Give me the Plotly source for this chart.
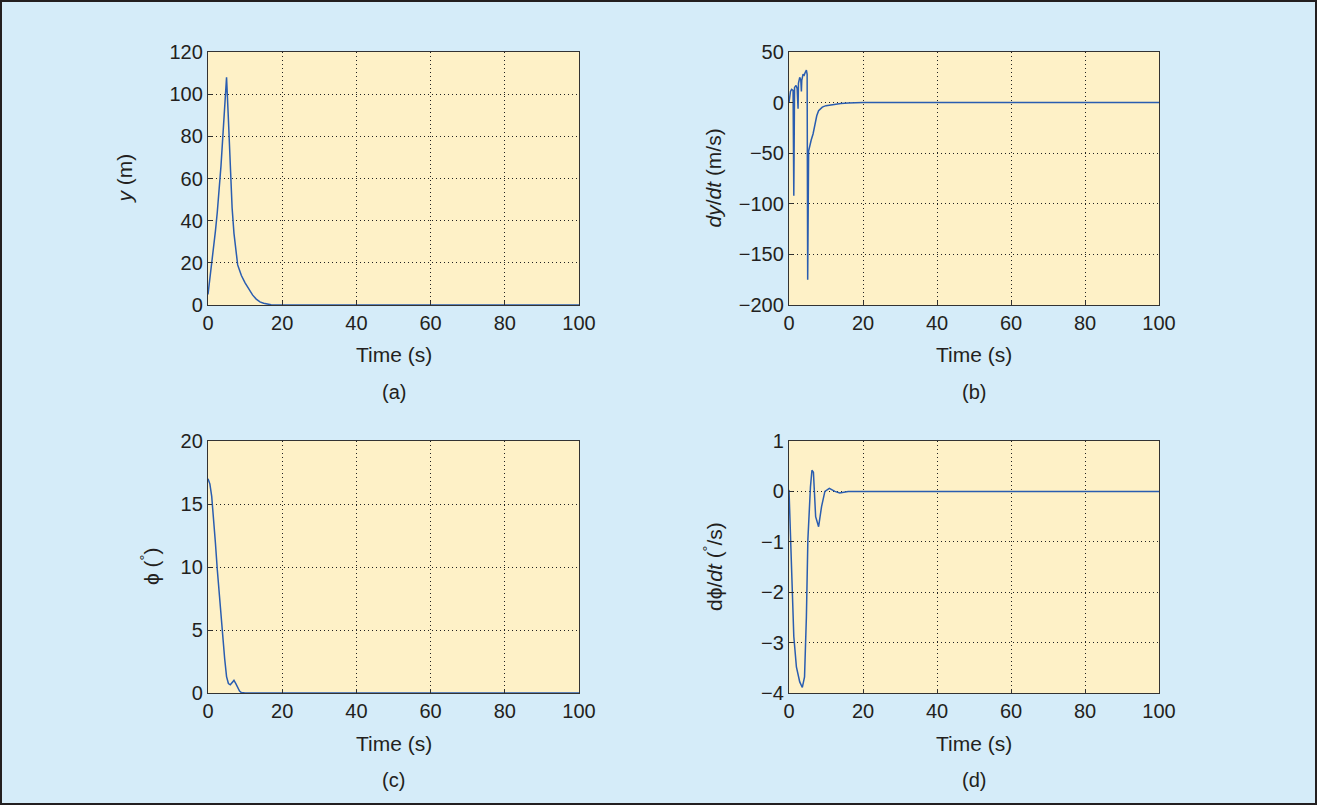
import plotly.graph_objects as go

# ---- data ----
t_y = [0, 0.5, 1, 1.5, 2, 2.5, 3, 3.5, 4, 4.5, 5, 5.5, 6, 6.5, 7, 7.5, 8, 8.5, 9, 10, 11, 12, 13, 14, 15, 16, 17, 18, 20, 30, 50, 100]
y_val = [5, 12, 19, 27, 35, 44, 54, 66, 80, 96, 108, 88, 64, 46, 34, 25, 19, 16.5, 14, 10.5, 7.5, 4.8, 2.8, 1.5, 0.8, 0.35, 0.1, 0.02, 0, 0, 0, 0]

t_dy = [0, 0.4, 0.7, 1.1, 1.3, 1.4, 1.5, 1.9, 2.2, 2.45, 2.55, 2.9, 3.2, 3.35, 3.45, 3.8, 4.1, 4.4, 4.7, 4.9, 5.05, 5.3, 5.6, 6.0, 6.5, 7.0, 7.5, 8.0, 9.0, 10, 12, 14, 16, 20, 100]
dy_val = [0, 11, 13, 12, -92, 10, 15, 17, 14, -6, 19, 25, 22, 11, 22, 28, 27, 30, 32, 28, -175, -48, -42, -37, -31, -22, -13, -8, -4.5, -3, -1.8, -0.8, -0.3, 0, 0]

t_phi = [0, 0.5, 1, 1.5, 2, 2.5, 3, 3.5, 4, 4.5, 5, 5.5, 6, 6.5, 7, 7.5, 8, 8.5, 9, 10, 12, 20, 100]
phi_val = [17.0, 16.6, 15.6, 13.9, 11.9, 9.8, 7.9, 6.2, 4.5, 2.7, 1.3, 0.75, 0.65, 0.85, 1.0, 0.75, 0.4, 0.15, 0.03, 0, 0, 0, 0]

t_dphi = [0, 0.4, 0.9, 1.3, 2.0, 2.9, 3.6, 4.2, 4.7, 5.1, 5.8, 6.2, 6.6, 7.2, 8.0, 8.8, 9.7, 10.9, 12.4, 13.7, 16, 20, 100]
dphi_val = [0.03, -0.77, -1.96, -2.88, -3.48, -3.78, -3.89, -3.68, -2.49, -0.96, 0.09, 0.42, 0.38, -0.5, -0.7, -0.3, 0.0, 0.06, 0.0, -0.03, 0, 0, 0]

x_ticks = [0, 20, 40, 60, 80, 100]
y_ticks_a = [0, 20, 40, 60, 80, 100, 120]
y_ticks_b = [-200, -150, -100, -50, 0, 50]
y_ticks_c = [0, 5, 10, 15, 20]
y_ticks_d = [-4, -3, -2, -1, 0, 1]

W, H = 1317, 805
BG = "#d5ecf9"
PLOT_BG = "#fef1c7"
LINE = "#2a5db0"
FONT = "Liberation Sans, Arial, sans-serif"
TXT = "#231f20"

def px_x(a, b):
    return [a / W, b / W]

def px_y(top, bot):
    return [1 - bot / H, 1 - top / H]

# (t, v, xdomain, ydomain, yrange, yticks, ytitle, ytitle_x_px, letter)
panels = [
    (t_y, y_val, px_x(208, 579), px_y(52, 305), [0, 120], y_ticks_a, "<i>y</i> (m)", 124, "(a)"),
    (t_dy, dy_val, px_x(789, 1159), px_y(52, 305), [-200, 50], y_ticks_b, "<i>dy</i>/<i>dt</i> (m/s)", 713, "(b)"),
    (t_phi, phi_val, px_x(208, 579), px_y(441, 693), [0, 20], y_ticks_c, "ϕ (<sup>°</sup>)", 150, "(c)"),
    (t_dphi, dphi_val, px_x(789, 1159), px_y(441, 693), [-4, 1], y_ticks_d, "dϕ/<i>dt</i> (<sup>°</sup>/s)", 713, "(d)"),
]

fig = go.Figure()
layout = dict(
    width=W, height=H,
    margin=dict(l=0, r=0, t=0, b=0, autoexpand=False),
    paper_bgcolor=BG, plot_bgcolor=PLOT_BG,
    showlegend=False,
    font=dict(family=FONT, size=20, color=TXT),
)
annotations = []
for i, (t, v, xd, yd, yr, yt, ytitle, ytx, letter) in enumerate(panels):
    n = "" if i == 0 else str(i + 1)
    fig.add_trace(go.Scatter(x=t, y=v, mode="lines", line=dict(color=LINE, width=1.5),
                             xaxis="x" + n, yaxis="y" + n, hoverinfo="skip"))
    common = dict(showline=True, linecolor="#333333", linewidth=1.3, mirror=True,
                  showgrid=True, gridcolor="#222222", griddash="1px,3px", gridwidth=1,
                  zeroline=False, ticks="inside", ticklen=4, tickcolor="#333333",
                  tickfont=dict(family=FONT, size=20, color=TXT))
    layout["xaxis" + n] = dict(domain=xd, range=[0, 100], tickvals=x_ticks,
                               anchor="y" + n, **common)
    layout["yaxis" + n] = dict(domain=yd, range=yr, tickvals=yt, anchor="x" + n,
                               **common)
    xc = (xd[0] + xd[1]) / 2
    bottom_px = (1 - yd[0]) * H
    top_px = (1 - yd[1]) * H
    # x-axis title
    annotations.append(dict(text="Time (s)", x=xc, y=1 - (bottom_px + 50) / H,
                            xref="paper", yref="paper", showarrow=False,
                            font=dict(family=FONT, size=21, color=TXT),
                            xanchor="center", yanchor="middle"))
    # panel letter
    annotations.append(dict(text=letter, x=xc, y=1 - (bottom_px + 87) / H,
                            xref="paper", yref="paper", showarrow=False,
                            font=dict(family=FONT, size=20, color=TXT),
                            xanchor="center", yanchor="middle"))
    # y-axis title
    annotations.append(dict(text=ytitle, x=ytx / W, y=1 - ((top_px + bottom_px) / 2) / H,
                            xref="paper", yref="paper", showarrow=False, textangle=-90,
                            font=dict(family=FONT, size=21, color=TXT),
                            xanchor="center", yanchor="middle"))

layout["annotations"] = annotations
layout["shapes"] = [dict(type="rect", xref="paper", yref="paper",
                         x0=1 / W, x1=1 - 1 / W, y0=1 / H, y1=1 - 1 / H,
                         line=dict(color="#231f20", width=2))]
fig.update_layout(**layout)
fig.write_html("out.html", post_script="document.body.style.margin='0';")
